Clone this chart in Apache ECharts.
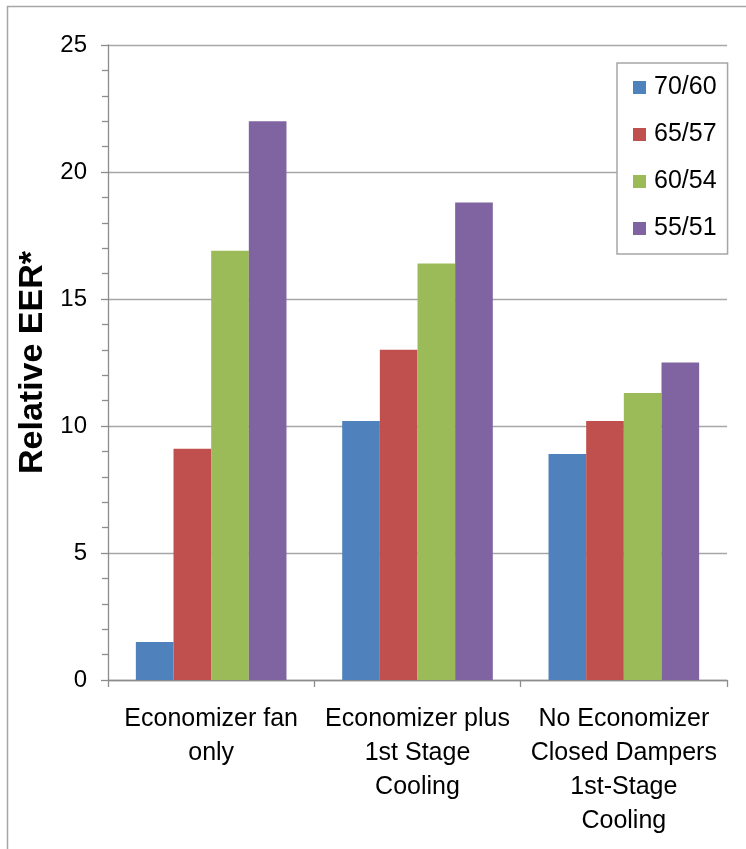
<!DOCTYPE html>
<html>
<head>
<meta charset="utf-8">
<script src="https://cdn.jsdelivr.net/npm/echarts@6/dist/echarts.min.js"></script>
<style>
  html, body { margin: 0; padding: 0; background: #fff; }
  #chart { width: 746px; height: 849px; }
</style>
</head>
<body>
<div id="chart"></div>
<script>
// Operating modes on the category axis
const categories = [
  'Economizer fan\nonly',
  'Economizer plus\n1st Stage\nCooling',
  'No Economizer\nClosed Dampers\n1st-Stage\nCooling'
];

// Outdoor-air conditions (dry bulb / wet bulb)
const seriesNames = ['70/60', '65/57', '60/54', '55/51'];

// Relative EER per condition, one value per operating mode
const eer7060 = [1.5, 10.2, 8.9];
const eer6557 = [9.1, 13.0, 10.2];
const eer6054 = [16.9, 16.4, 11.3];
const eer5551 = [22.0, 18.8, 12.5];

// Y-axis ticks
const yTicks = [0, 5, 10, 15, 20, 25];

const seriesData = [eer7060, eer6557, eer6054, eer5551];
const colors = ['#4F81BD', '#C0504D', '#9BBB59', '#8064A2'];

const FONT = '"Liberation Sans", Arial, sans-serif';

const chart = echarts.init(document.getElementById('chart'), null, { renderer: 'canvas' });

chart.setOption({
  animation: false,
  color: colors,
  textStyle: { fontFamily: FONT },
  graphic: [{
    type: 'rect',
    shape: { x: 7.5, y: 6.5, width: 900, height: 900 },
    style: { fill: 'none', stroke: '#A6A6A6', lineWidth: 1.5 },
    silent: true,
    z: -10
  }],
  grid: { left: 108, right: 19, top: 45, bottom: 169, containLabel: false },
  legend: {
    orient: 'vertical',
    left: 617,
    top: 63,
    data: seriesNames,
    icon: 'rect',
    itemWidth: 13,
    itemHeight: 13,
    itemGap: 22,
    padding: [12, 11, 13, 16],
    borderColor: '#A6A6A6',
    borderWidth: 1.5,
    backgroundColor: '#fff',
    textStyle: { fontFamily: FONT, fontSize: 25, lineHeight: 25, color: '#000', padding: [0, 0, 0, 3] }
  },
  xAxis: {
    type: 'category',
    data: categories,
    axisLine: { lineStyle: { color: '#8C8C8C', width: 1.3 } },
    axisTick: { show: true, length: 7, lineStyle: { color: '#8C8C8C', width: 1.3 } },
    axisLabel: {
      fontFamily: FONT, fontSize: 25, lineHeight: 34, color: '#000',
      margin: 22, interval: 0, align: 'center'
    }
  },
  yAxis: {
    type: 'value',
    min: yTicks[0],
    max: yTicks[yTicks.length - 1],
    interval: yTicks[1] - yTicks[0],
    name: 'Relative EER*',
    nameLocation: 'middle',
    nameGap: 56,
    nameTextStyle: { fontFamily: FONT, fontSize: 34, fontWeight: 'bold', color: '#000' },
    axisLine: { show: true, lineStyle: { color: '#8C8C8C', width: 1.3 } },
    axisTick: { show: true, length: 7, lineStyle: { color: '#8C8C8C', width: 1.3 } },
    minorTick: { show: true, splitNumber: 5, length: 6, lineStyle: { color: '#8C8C8C', width: 1.3 } },
    splitLine: { show: true, lineStyle: { color: '#A6A6A6', width: 1.3 } },
    axisLabel: { fontFamily: FONT, fontSize: 24, color: '#000', margin: 21 }
  },
  series: seriesNames.map((name, i) => ({
    name,
    type: 'bar',
    data: seriesData[i],
    barGap: '0%',
    barCategoryGap: '27%',
    itemStyle: { color: colors[i] }
  }))
});
</script>
</body>
</html>
